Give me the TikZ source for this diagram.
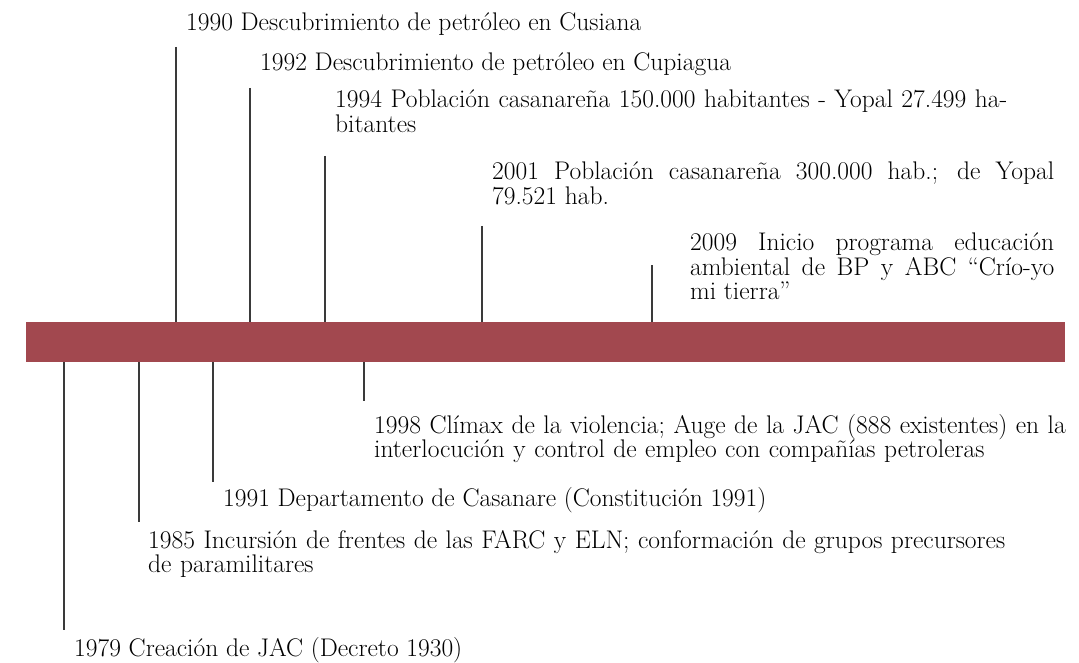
\documentclass[tikz,border=0pt]{standalone}
\usepackage{tikz}
\definecolor{wine}{HTML}{A2484F}
\definecolor{stemgray}{HTML}{3A3A3A}
\tikzset{
  band/.style={fill=wine,draw=none,minimum width=1039pt,minimum height=40pt,inner sep=0pt},
  stem/.style={stemgray,line width=1.4pt},
  lbl/.style={anchor=base west,inner sep=0pt,align=left,font=\fontsize{25.5}{24.5}\selectfont},
  jbx/.style={lbl,text width=#1,align=justify},
  lbx/.style={lbl,text width=#1,align=left},
}
\begin{document}
\begin{tikzpicture}[x=1pt,y=-1pt]
\useasboundingbox (0,0) rectangle (1079,663);
\node[band] (bar) at (545.5,342) {};
% events above the band
\node[lbl] (e1990) at (186,31) {1990 Descubrimiento de petróleo en Cusiana};
\node[lbl] (e1992) at (260,71) {1992 Descubrimiento de petróleo en Cupiagua};
\node[lbx=720pt] (e1994) at (335,108) {1994 Población casanareña 150.000 habitantes - Yopal 27.499 ha-\\bitantes};
\node[jbx=562pt] (e2001) at (492,180) {2001 Población casanareña 300.000 hab.; de Yopal\linebreak 79.521 hab.};
\node[jbx=364pt] (e2009) at (690,251) {2009 Inicio programa educación\linebreak ambiental de BP y ABC ``Crío-yo\linebreak mi tierra''};
\coordinate (s1990) at (176,47);
\coordinate (s1992) at (250,88);
\coordinate (s1994) at (325,156);
\coordinate (s2001) at (482,226);
\coordinate (s2009) at (652,265);
\foreach \y in {1990,1992,1994,2001,2009}
  \draw[stem] (s\y) -- (s\y |- bar.north);
% events below the band
\node[lbx=720pt] (e1998) at (374,433) {1998 Clímax de la violencia; Auge de la JAC (888 existentes) en la\\interlocución y control de empleo con compañías petroleras};
\node[lbl] (e1991) at (223,506) {1991 Departamento de Casanare (Constitución 1991)};
\node[lbx=920pt] (e1985) at (148,548) {1985 Incursión de frentes de las FARC y ELN; conformación de grupos precursores\\de paramilitares};
\node[lbl] (e1979) at (74,656) {1979 Creación de JAC (Decreto 1930)};
\coordinate (s1979) at (64,630);
\coordinate (s1985) at (139,522);
\coordinate (s1991) at (213,482);
\coordinate (s1998) at (364,401);
\foreach \y in {1979,1985,1991,1998}
  \draw[stem] (bar.south -| s\y) -- (s\y);
\end{tikzpicture}
\end{document}
